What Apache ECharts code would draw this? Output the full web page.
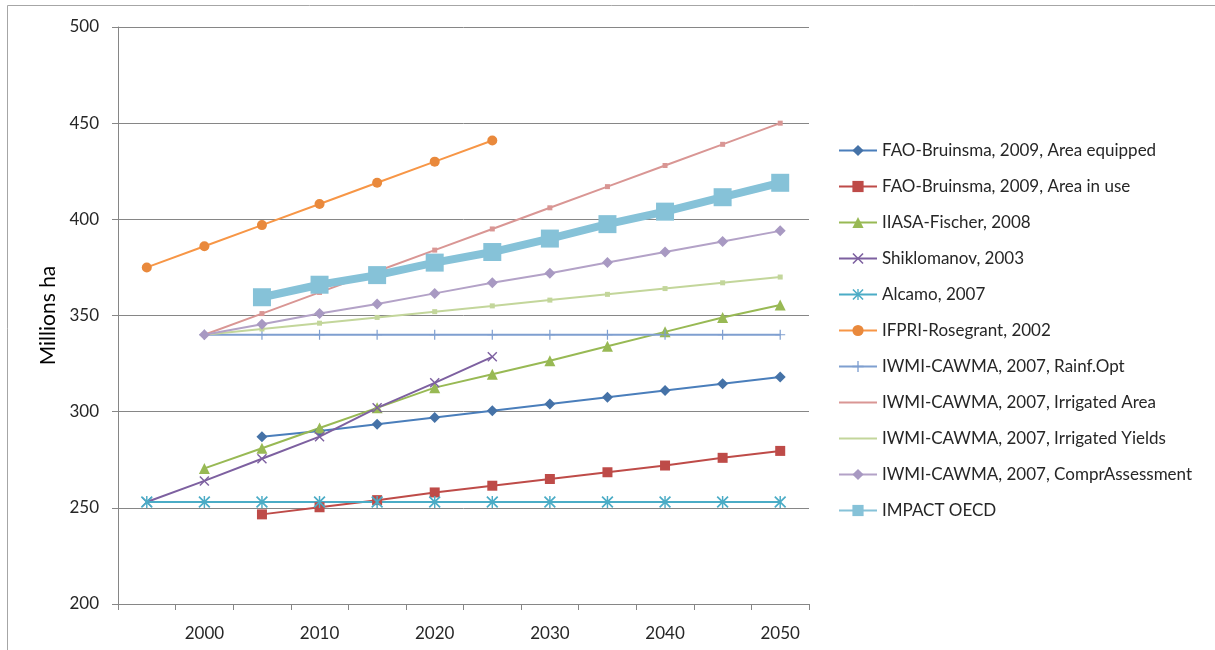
<!DOCTYPE html>
<html>
<head>
<meta charset="utf-8">
<script src="https://cdn.jsdelivr.net/npm/echarts@6/dist/echarts.min.js"></script>
<style>
  html, body { margin: 0; padding: 0; background: #ffffff; }
  #chart { width: 1215px; height: 650px; }
</style>
</head>
<body>
<div id="chart"></div>
<script>
// Irrigated area projections, millions of hectares
const years = ['1995', '2000', '2005', '2010', '2015', '2020', '2025', '2030', '2035', '2040', '2045', '2050'];
const yTicks = [200, 250, 300, 350, 400, 450, 500];

const faoEquipped   = [null, null, 287, 290, 293.5, 297, 300.5, 304, 307.5, 311, 314.5, 318];
const faoInUse      = [null, null, 246.6, 250.3, 254, 258, 261.5, 265, 268.5, 272, 276, 279.6];
const iiasaFischer  = [null, 270.5, 281, 291.5, 302, 312.5, 319.5, 326.5, 334, 341.5, 349, 355.5];
const shiklomanov   = [253, 264, 275.5, 287, 302, 315, 328.5, null, null, null, null, null];
const alcamo        = [253, 253, 253, 253, 253, 253, 253, 253, 253, 253, 253, 253];
const ifpri         = [375, 386, 397, 408, 419, 430, 441, null, null, null, null, null];
const iwmiRainf     = [null, 340, 340, 340, 340, 340, 340, 340, 340, 340, 340, 340];
const iwmiIrrArea   = [null, 340, 351, 362, 373, 384, 395, 406, 417, 428, 439, 450];
const iwmiIrrYields = [null, 340, 343, 346, 349, 352, 355, 358, 361, 364, 367, 370];
const iwmiCompr     = [null, 340, 345.5, 351, 356, 361.5, 367, 372, 377.5, 383, 388.5, 394];
const impactOecd    = [null, null, 359.5, 366, 371, 377.5, 383, 390, 397.5, 404, 411.5, 419];

const FONT = 'Lato';
const TEXT = '#262626';

// Marker shapes
const xMark = 'path://M0,1 L1,0 L5,4 L9,0 L10,1 L6,5 L10,9 L9,10 L5,6 L1,10 L0,9 L4,5 Z';
const starMark = 'path://M0,1 L1,0 L5,4 L9,0 L10,1 L6,5 L10,9 L9,10 L5,6 L1,10 L0,9 L4,5 Z M4.4,0 L5.6,0 L5.6,10 L4.4,10 Z';
const plusMark = 'path://M4.4,0 L5.6,0 L5.6,10 L4.4,10 Z M0,4.4 L10,4.4 L10,5.6 L0,5.6 Z';
const dashMark = 'path://M0,4 L10,4 L10,6 L0,6 Z';

function line(name, data, color, symbol, symbolSize, width, markerColor) {
  return {
    name: name,
    type: 'line',
    data: data,
    symbol: symbol,
    symbolSize: symbolSize,
    connectNulls: false,
    animation: false,
    lineStyle: { color: color, width: width },
    itemStyle: { color: markerColor || color, borderWidth: 0 },
    emphasis: { disabled: true }
  };
}

const series = [
  line('FAO-Bruinsma, 2009, Area equipped', faoEquipped, '#4a7ebb', 'diamond', 11, 2, '#4572a7'),
  line('FAO-Bruinsma, 2009, Area in use', faoInUse, '#be4b48', 'rect', 10, 2),
  line('IIASA-Fischer, 2008', iiasaFischer, '#98b954', 'triangle', 11, 2),
  line('Shiklomanov, 2003', shiklomanov, '#7d60a0', xMark, 10, 2),
  line('Alcamo, 2007', alcamo, '#4bacc6', starMark, 12, 2),
  line('IFPRI-Rosegrant, 2002', ifpri, '#f79646', 'circle', 10, 2, '#e9893c'),
  line('IWMI-CAWMA, 2007, Rainf.Opt', iwmiRainf, '#7f9fd0', plusMark, 10, 2),
  line('IWMI-CAWMA, 2007, Irrigated Area', iwmiIrrArea, '#d99694', dashMark, 5, 2),
  line('IWMI-CAWMA, 2007, Irrigated Yields', iwmiIrrYields, '#c3d69b', dashMark, 5, 2),
  line('IWMI-CAWMA, 2007, ComprAssessment', iwmiCompr, '#b3a2c7', 'diamond', 11, 2, '#a899c2'),
  line('IMPACT OECD', impactOecd, '#86c2d8', 'rect', 18, 8, '#86c2d8')
];

// These two show only their line in the legend
const plainLegend = ['IWMI-CAWMA, 2007, Irrigated Area', 'IWMI-CAWMA, 2007, Irrigated Yields'];

const chart = echarts.init(document.getElementById('chart'), null, { renderer: 'canvas' });

chart.setOption({
  animation: false,
  backgroundColor: '#ffffff',
  textStyle: { fontFamily: FONT },
  graphic: [{
    type: 'rect',
    shape: { x: 7.5, y: 5.5, width: 1300, height: 700 },
    style: { fill: 'none', stroke: '#a6a6a6', lineWidth: 1 },
    silent: true
  }],
  grid: { left: 118, right: 406, top: 27, bottom: 46, containLabel: false },
  legend: {
    orient: 'vertical',
    left: 833,
    top: 137,
    padding: 5,
    itemWidth: 38,
    itemHeight: 14,
    itemGap: 19,
    textStyle: { fontFamily: FONT, fontSize: 17, color: TEXT },
    data: series.map(s => plainLegend.includes(s.name)
      ? { name: s.name, itemStyle: { color: 'rgba(0,0,0,0)' } }
      : { name: s.name })
  },
  xAxis: {
    type: 'category',
    data: years,
    boundaryGap: true,
    axisLine: { show: true, lineStyle: { color: '#868686', width: 1 } },
    axisTick: { show: true, interval: 0, length: 6, lineStyle: { color: '#868686' } },
    axisLabel: {
      interval: (i) => i % 2 === 1,
      margin: 21,
      fontFamily: FONT,
      fontSize: 17,
      color: TEXT
    },
    splitLine: { show: false }
  },
  yAxis: {
    type: 'value',
    min: yTicks[0],
    max: yTicks[yTicks.length - 1],
    interval: 50,
    name: 'Millions ha',
    nameLocation: 'middle',
    nameGap: 58,
    nameRotate: 90,
    nameTextStyle: { fontFamily: FONT, fontSize: 21, color: '#000000' },
    axisLine: { show: true, lineStyle: { color: '#868686', width: 1 } },
    axisTick: { show: true, length: 6, lineStyle: { color: '#868686' } },
    axisLabel: { margin: 19, fontFamily: FONT, fontSize: 17, color: TEXT },
    splitLine: { show: true, lineStyle: { color: '#868686', width: 1 } }
  },
  series: series
});
</script>
</body>
</html>
